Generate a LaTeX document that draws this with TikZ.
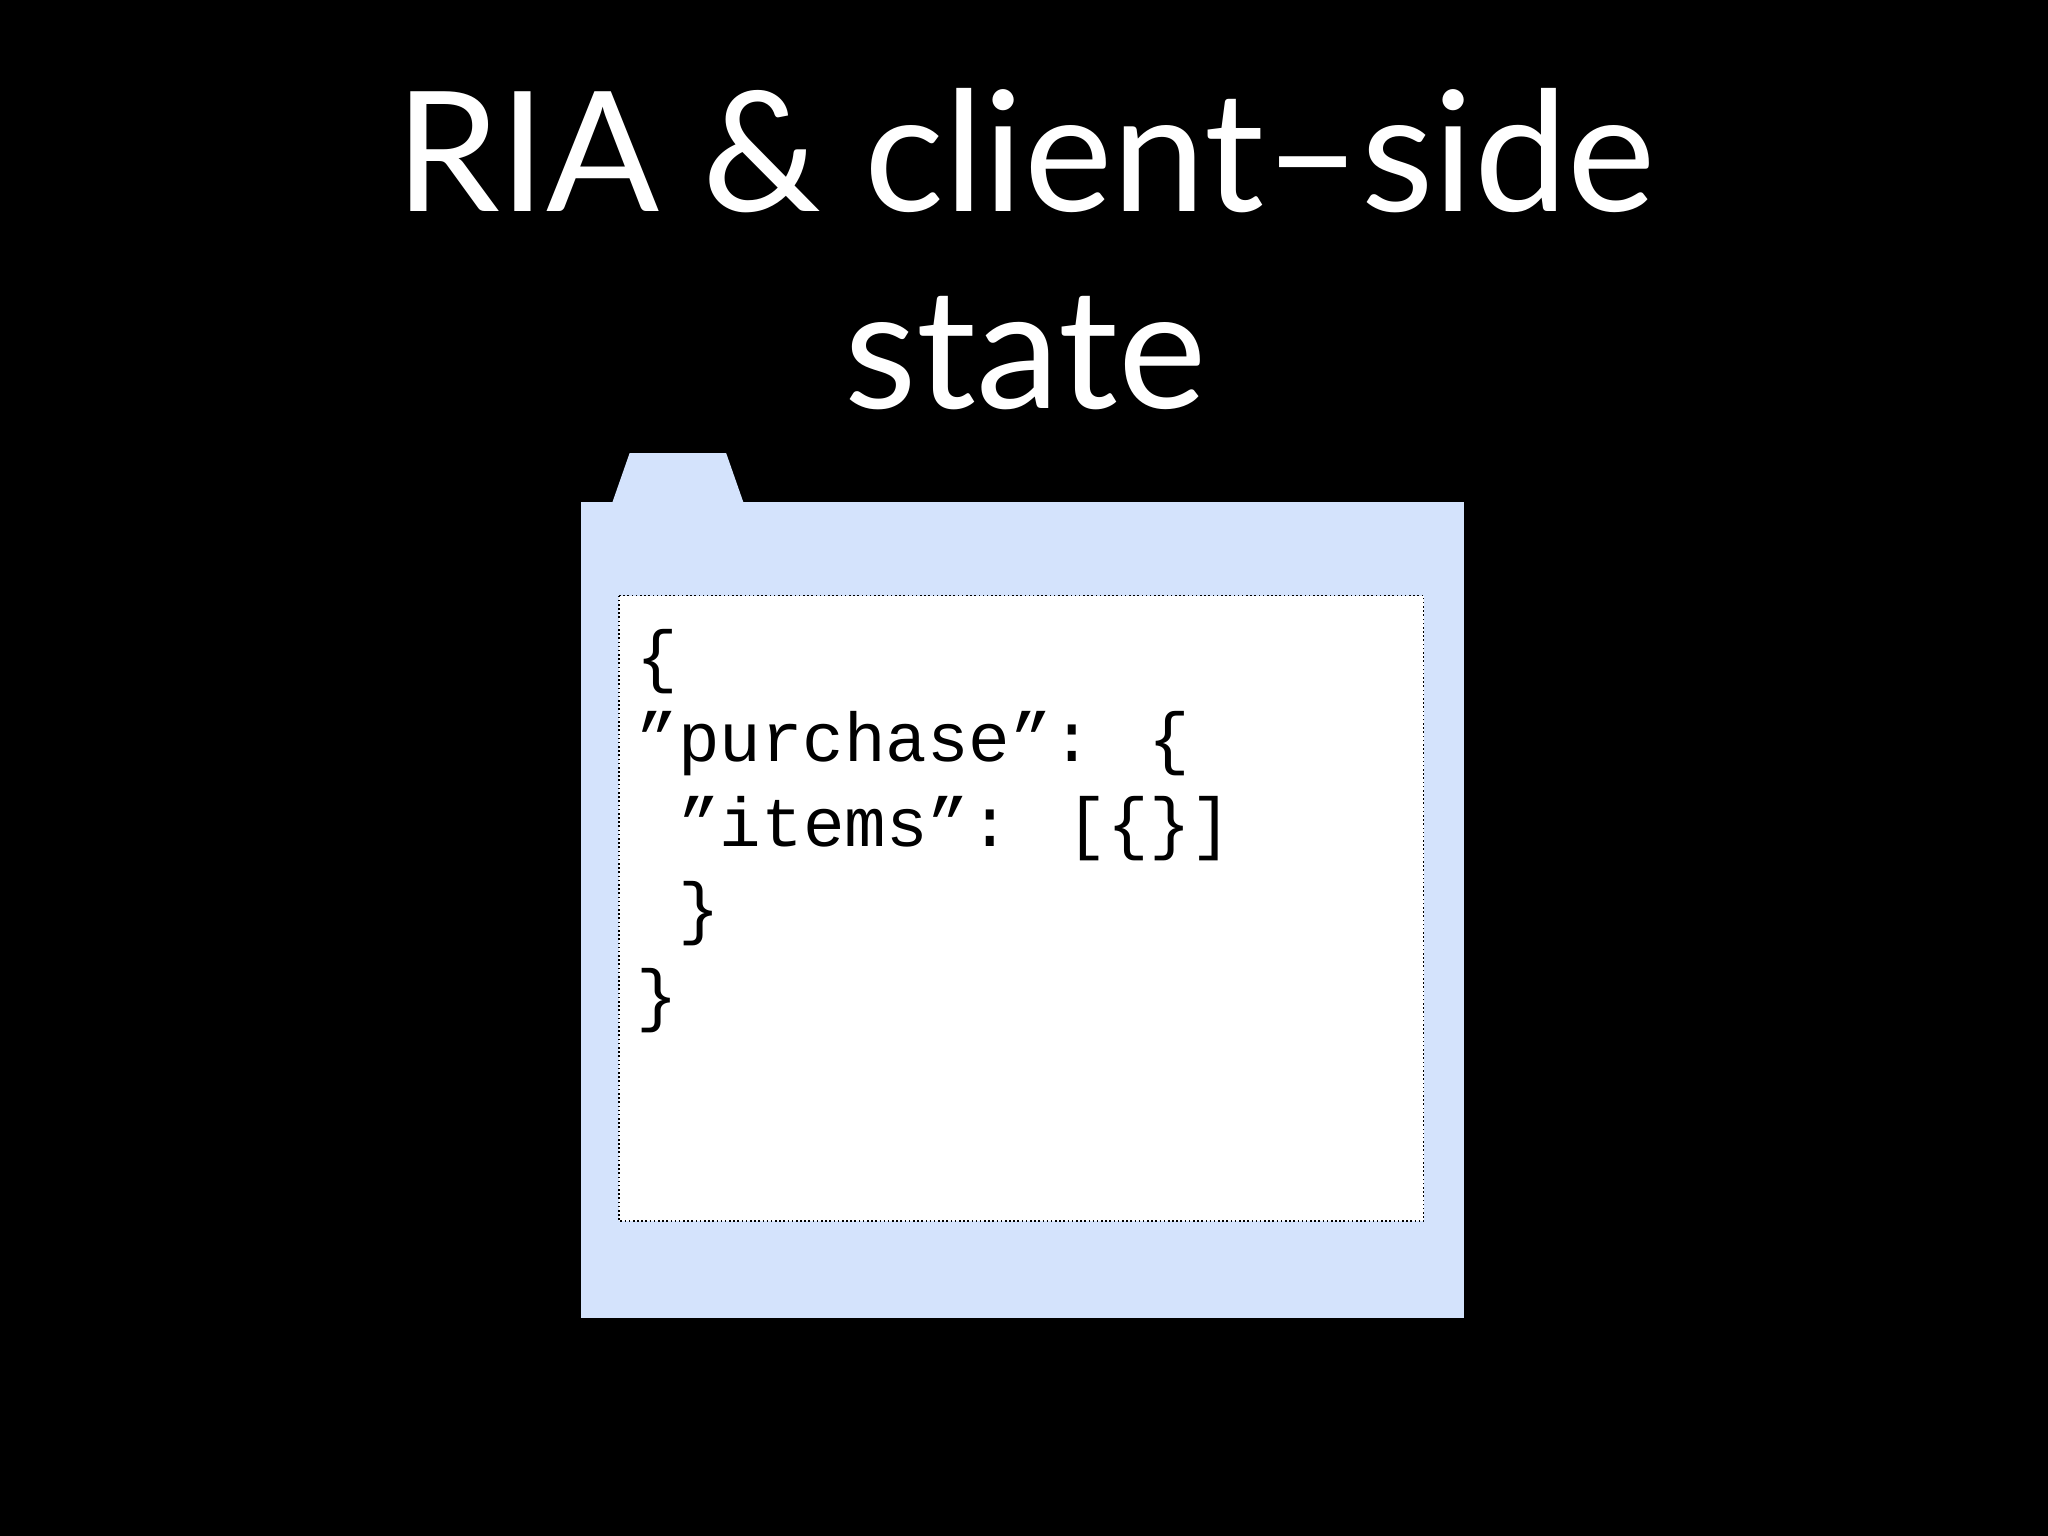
\documentclass[tikz,border=0pt]{standalone}
\usepackage{fontspec}
\setmainfont{Lato}
\newfontfamily\codefont{Liberation Mono}
\definecolor{folder}{HTML}{D4E3FC}
\begin{document}
\begin{tikzpicture}[x=0.5pt,y=-0.5pt,
  title/.style={text=white,font=\fontsize{64}{70}\selectfont,anchor=base,inner sep=0},
  code/.style={font=\codefont\fontsize{26.5}{30}\selectfont,anchor=base west,inner sep=0}]
\fill[black] (0,0) rectangle (1568,1176);
\useasboundingbox (0,0) rectangle (1568,1176);
\node[title] (t1) at (785,162) {RIA \& client–side};
\node[title] (t2) at (785,313) {state};
\fill[folder] (468,387) -- (482,347) -- (556,347) -- (570,387) -- cycle;
\fill[folder] (445,384) rectangle (1121,1009);
\draw[fill=white,densely dotted,line width=0.6pt] (474,456) rectangle (1090,935);
\node[code] (l1) at (487,520) {\{};
\node[code] (l2) at (487,583) {”purchase”: \{};
\node[code] (l3) at (519,648) {”items”: [\{\}]};
\node[code] (l4) at (519,713) {\}};
\node[code] (l5) at (487,780) {\}};
\end{tikzpicture}
\end{document}
